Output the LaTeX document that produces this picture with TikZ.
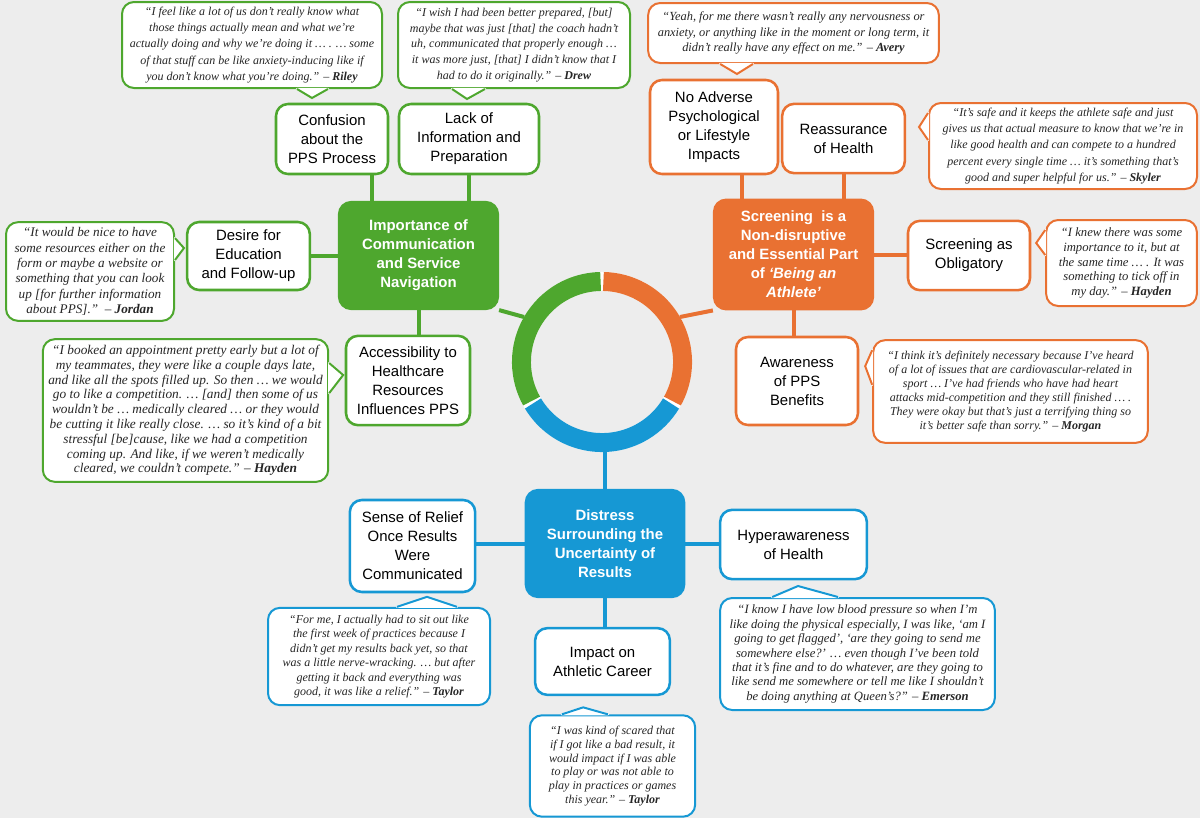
\documentclass[tikz,border=0pt]{standalone}
\usepackage{fontspec}
\setmainfont{Liberation Serif}
\setsansfont{Liberation Sans}
\usetikzlibrary{positioning}

\definecolor{gthm}{RGB}{78,167,46}
\definecolor{othm}{RGB}{233,113,50}
\definecolor{bthm}{RGB}{22,152,212}
\definecolor{bgcol}{RGB}{237,237,237}

\newcommand{\boxfont}{\sffamily\fontsize{11.2}{14.25}\selectfont}
\newcommand{\qfont}{\rmfamily\itshape\fontsize{9}{12.2}\selectfont}
% pointer of a quote bubble: colour, base, tip, base
\newcommand{\qtip}[4]{%
  \filldraw[fill=white, draw=white, line width=1.6pt, line join=round] #2 -- #3 -- #4 -- cycle;
  \draw[#1, line width=1.5pt] #2 -- #3 -- #4;}

\begin{document}
\begin{tikzpicture}[
    x=0.75pt, y=-0.75pt,
    % --- STYLES ---
    theme/.style={rectangle, rounded corners=9pt, draw=#1, fill=#1, line width=1.9pt, align=center, text=white, font=\boxfont\bfseries},
    sub/.style={rectangle, rounded corners=9pt, draw=#1, fill=white, line width=1.9pt, align=center, text=black, font=\boxfont},
    quote/.style={rectangle, rounded corners=9pt, draw=#1, fill=white, line width=1.5pt, align=center, text=black!85, font=\qfont, inner sep=2pt},
    qsize/.style 2 args={font=\rmfamily\itshape\fontsize{#1}{#2}\selectfont}, % per-bubble text size
    link/.style={draw=#1, line width=3pt}
]
\useasboundingbox (0,0) rectangle (1200,818);
\fill[bgcol] (0,0) rectangle (1200,818);

% --- 0. CENTRAL RING ---
\coordinate (ring) at (602,362);
\coordinate (ring_g) at ([shift={(150:67.5pt)}]ring);
\coordinate (ring_o) at ([shift={(30:67.5pt)}]ring);
\coordinate (ring_b) at ([shift={(270:67.5pt)}]ring);
\draw[white, line width=14.25pt] (ring) circle[radius=60.4pt];
\draw[gthm, line width=14.25pt] ([shift={(91:60.4pt)}]ring) arc[start angle=91, end angle=209, radius=60.4pt];
\draw[bthm, line width=14.25pt] ([shift={(211:60.4pt)}]ring) arc[start angle=211, end angle=329, radius=60.4pt];
\draw[othm, line width=14.25pt] ([shift={(331:60.4pt)}]ring) arc[start angle=331, end angle=449, radius=60.4pt];

% --- 1. COMMUNICATION (green) ---
\node (comm_main) [theme=gthm, minimum width=119pt, minimum height=80pt] at (418.5,255.5) {Importance of\\Communication\\and Service\\Navigation};
\node (confusion) [sub=gthm, minimum width=84pt, minimum height=52.5pt] at (332,139) {Confusion\\about the\\PPS Process};
\node (lack_info) [sub=gthm, minimum width=105pt, minimum height=52.5pt] at (469,139) {Lack of\\Information and\\Preparation};
\node (desire) [sub=gthm, minimum width=92pt, minimum height=51pt] at (248.5,256) {Desire for\\Education\\and Follow-up};
\node (access) [sub=gthm, minimum width=93pt, minimum height=67pt] at (408,380.5) {Accessibility to\\Healthcare\\Resources\\Influences PPS};

% --- 2. SCREENING (orange) ---
\node (screen_main) [theme=othm, minimum width=119pt, minimum height=82pt] at (793.5,254.5) {Screening\ \ is a\\Non-disruptive\\and Essential Part\\of \textit{‘Being an}\\\textit{Athlete’}};
\node (no_adverse) [sub=othm, minimum width=96pt, minimum height=70.5pt] at (714,127) {No Adverse\\Psychological\\or Lifestyle\\Impacts};
\node (reassure) [sub=othm, minimum width=92pt, minimum height=52pt] at (843.5,138.5) {Reassurance\\of Health};
\node (obligatory) [sub=othm, minimum width=91.5pt, minimum height=52pt] at (969,255.5) {Screening as\\Obligatory};
\node (aware) [sub=othm, minimum width=91.5pt, minimum height=66pt] at (797,381) {Awareness\\of PPS\\Benefits};

% --- 3. DISTRESS (blue) ---
\node (distress_main) [theme=bthm, minimum width=118.5pt, minimum height=80pt] at (605,543.5) {Distress\\Surrounding the\\Uncertainty of\\Results};
\node (relief) [sub=bthm, minimum width=94pt, minimum height=69pt] at (412.5,546) {Sense of Relief\\Once Results\\Were\\Communicated};
\node (hyper) [sub=bthm, minimum width=110pt, minimum height=52pt] at (793.5,544.5) {Hyperawareness\\of Health};
\node (impact) [sub=bthm, minimum width=101pt, minimum height=50pt] at (602.5,661.5) {Impact on\\Athletic Career};

% --- 4. QUOTES ---
\node (q_riley) [quote=gthm, minimum width=195pt, minimum height=64.5pt] at (252,45) {“I feel like a lot of us don't really know what\\those things actually mean and what we're\\actually doing and why we're doing it … . … some\\of that stuff can be like anxiety-inducing like if\\you don't know what you're doing.” – \textbf{Riley}};
\node (q_drew) [quote=gthm, qsize={9}{11.9}, minimum width=174pt, minimum height=64.5pt] at (514,45) {“I wish I had been better prepared, [but]\\maybe that was just [that] the coach hadn’t\\uh, communicated that properly enough …\\it was more just, [that] I didn’t know that I\\had to do it originally.” – \textbf{Drew}};
\node (q_jordan) [quote=gthm, qsize={9.9}{11.5}, minimum width=126pt, minimum height=74pt] at (90,271.5) {“It would be nice to have\\some resources either on the\\form or maybe a website or\\something that you can look\\up [for further information\\about PPS].”\ \ – \textbf{Jordan}};
\node (q_hayden_a) [quote=gthm, qsize={10}{11.1}, minimum width=214pt, minimum height=107pt] at (185.5,410.5) {“I booked an appointment pretty early but a lot of\\my teammates, they were like a couple days late,\\and like all the spots filled up. So then … we would\\go to like a competition. … [and] then some of us\\wouldn't be … medically cleared … or they would\\be cutting it like really close. … so it's kind of a bit\\stressful [be]cause, like we had a competition\\coming up. And like, if we weren't medically\\cleared, we couldn't compete.” – \textbf{Hayden}};

\node (q_avery) [quote=othm, qsize={9.3}{11.3}, minimum width=218pt, minimum height=45pt] at (793.5,33) {“Yeah, for me there wasn't really any nervousness or\\anxiety, or anything like in the moment or long term, it\\didn't really have any effect on me.” – \textbf{Avery}};
\node (q_skyler) [quote=othm, minimum width=201pt, minimum height=64.5pt] at (1063,146) {“It's safe and it keeps the athlete safe and just\\gives us that actual measure to know that we're in\\like good health and can compete to a hundred\\percent every single time … it’s something that’s\\good and super helpful for us.” – \textbf{Skyler}};
\node (q_hayden_o) [quote=othm, qsize={9.5}{10.9}, minimum width=113pt, minimum height=64.5pt] at (1121.5,263) {“I knew there was some\\importance to it, but at\\the same time … . It was\\something to tick off in\\my day.” – \textbf{Hayden}};
\node (q_morgan) [quote=othm, qsize={9}{10.4}, minimum width=206pt, minimum height=77pt] at (1010.5,391.5) {“I think it's definitely necessary because I've heard\\of a lot of issues that are cardiovascular-related in\\sport … I've had friends who have had heart\\attacks mid-competition and they still finished … .\\They were okay but that's just a terrifying thing so\\it's better safe than sorry.” – \textbf{Morgan}};

\node (q_taylor_r) [quote=bthm, qsize={9}{10.9}, minimum width=166.5pt, minimum height=73pt] at (379,656.5) {“For me, I actually had to sit out like\\the first week of practices because I\\didn't get my results back yet, so that\\was a little nerve-wracking. … but after\\getting it back and everything was\\good, it was like a relief.” – \textbf{Taylor}};
\node (q_emerson) [quote=bthm, qsize={9.5}{10.8}, minimum width=206pt, minimum height=84pt] at (857.5,654) {“I know I have low blood pressure so when I’m\\like doing the physical especially, I was like, ‘am I\\going to get flagged’, ‘are they going to send me\\somewhere else?’ … even though I’ve been told\\that it’s fine and to do whatever, are they going to\\like send me somewhere or tell me like I shouldn’t\\be doing anything at Queen’s?” – \textbf{Emerson}};
\node (q_taylor_c) [quote=bthm, qsize={9}{10.4}, minimum width=124pt, minimum height=76pt] at (612.5,766) {“I was kind of scared that\\if I got like a bad result, it\\would impact if I was able\\to play or was not able to\\play in practices or games\\this year.” – \textbf{Taylor}};

% --- 5. LINKS ---
\draw[link=gthm] ([xshift=30pt]confusion.south) -- ([xshift=30pt]confusion.south |- comm_main.north);
\draw[link=gthm] (lack_info.south) -- (lack_info.south |- comm_main.north);
\draw[link=gthm] (desire.east) -- (desire.east -| comm_main.west);
\draw[link=gthm] (comm_main.south) -- (comm_main.south |- access.north);
\draw[link=gthm] (comm_main.south east) -- (ring_g);

\draw[link=othm] ([xshift=21pt]no_adverse.south) -- ([xshift=21pt]no_adverse.south |- screen_main.north);
\draw[link=othm] (reassure.south) -- (reassure.south |- screen_main.north);
\draw[link=othm] (screen_main.east) -- (screen_main.east -| obligatory.west);
\draw[link=othm] (screen_main.south) -- (screen_main.south |- aware.north);
\draw[link=othm] (screen_main.south west) -- (ring_o);

\draw[link=bthm] (distress_main.north) -- (distress_main.north |- ring_b);
\draw[link=bthm] (distress_main.west) -- (distress_main.west -| relief.east);
\draw[link=bthm] (distress_main.east) -- (distress_main.east -| hyper.west);
\draw[link=bthm] (distress_main.south) -- (distress_main.south |- impact.north);

% --- 6. QUOTE POINTERS ---
\qtip{gthm}{([xshift=33.75pt]q_riley.south)}{([xshift=45pt,yshift=-6.75pt]q_riley.south)}{([xshift=57pt]q_riley.south)}
\qtip{gthm}{([xshift=-46.5pt]q_drew.south)}{([xshift=-35.25pt,yshift=-7.5pt]q_drew.south)}{([xshift=-21.75pt]q_drew.south)}
\qtip{gthm}{([yshift=25pt]q_jordan.east)}{([xshift=6.75pt,yshift=17.6pt]q_jordan.east)}{([yshift=8.6pt]q_jordan.east)}
\qtip{gthm}{([yshift=35.6pt]q_hayden_a.east)}{([xshift=10.5pt,yshift=26.6pt]q_hayden_a.east)}{([yshift=13pt]q_hayden_a.east)}

\qtip{othm}{([xshift=-55pt]q_avery.south)}{([xshift=-42.4pt,yshift=-7.5pt]q_avery.south)}{([xshift=-30.4pt]q_avery.south)}
\qtip{othm}{([yshift=24.75pt]q_skyler.west)}{([xshift=-6.75pt,yshift=14.25pt]q_skyler.west)}{([yshift=4.5pt]q_skyler.west)}
\qtip{othm}{([yshift=24.75pt]q_hayden_o.west)}{([xshift=-6.75pt,yshift=15pt]q_hayden_o.west)}{([yshift=6pt]q_hayden_o.west)}
\qtip{othm}{([yshift=31pt]q_morgan.west)}{([xshift=-5.25pt,yshift=19pt]q_morgan.west)}{([yshift=5pt]q_morgan.west)}

\qtip{bthm}{([xshift=13.5pt]q_taylor_r.north)}{([xshift=36pt,yshift=7.5pt]q_taylor_r.north)}{([xshift=58.5pt]q_taylor_r.north)}
\qtip{bthm}{([xshift=-64pt]q_emerson.north)}{([xshift=-44.6pt,yshift=8.25pt]q_emerson.north)}{([xshift=-14.6pt]q_emerson.north)}
\qtip{bthm}{([xshift=-38pt]q_taylor_c.north)}{([xshift=-22pt,yshift=5.25pt]q_taylor_c.north)}{([xshift=-3.4pt]q_taylor_c.north)}

\end{tikzpicture}
\end{document}
